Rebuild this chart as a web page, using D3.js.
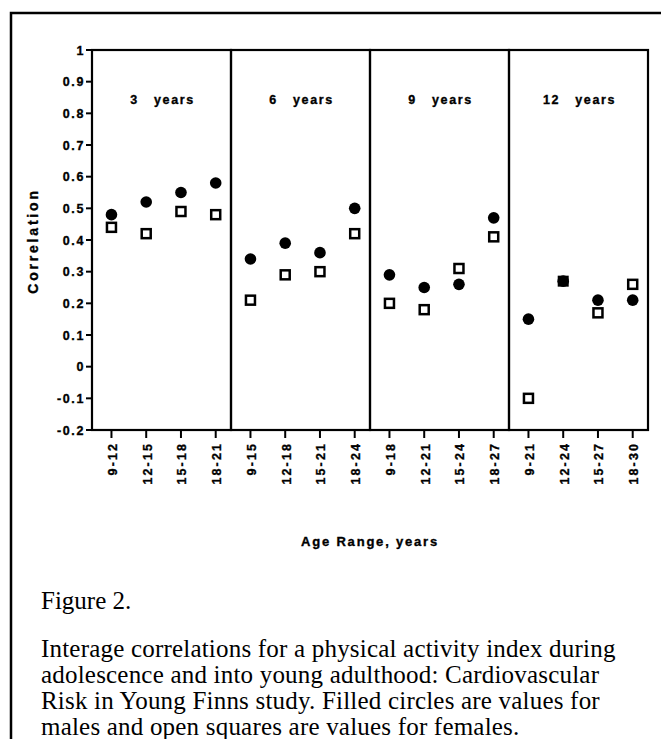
<!DOCTYPE html>
<html>
<head>
<meta charset="utf-8">
<script src="https://cdn.jsdelivr.net/npm/d3@7"></script>
<style>
	html, body { margin: 0; padding: 0; background: #fff; }
	svg { display: block; }
	.lab { font-family: "Liberation Sans", Arial, sans-serif; font-weight: bold; fill: #000; stroke: #000; stroke-width: 0.35px; }
	.cap { font-family: "Liberation Serif", "Times New Roman", serif; fill: #000; }
</style>
</head>
<body>
<div id="chart"></div>
<script>
// interage correlations, 4 follow-up lengths
const panelNames = ['3   years', '6   years', '9   years', '12   years'];
const ageRanges = [
	['9-12', '12-15', '15-18', '18-21'],
	['9-15', '12-18', '15-21', '18-24'],
	['9-18', '12-21', '15-24', '18-27'],
	['9-21', '12-24', '15-27', '18-30']
];
const males = [
	[0.48, 0.52, 0.55, 0.58],
	[0.34, 0.39, 0.36, 0.50],
	[0.29, 0.25, 0.26, 0.47],
	[0.15, 0.27, 0.21, 0.21]
];
const females = [
	[0.44, 0.42, 0.49, 0.48],
	[0.21, 0.29, 0.30, 0.42],
	[0.20, 0.18, 0.31, 0.41],
	[-0.10, 0.27, 0.17, 0.26]
];
const yTickValues = [-0.2, -0.1, 0, 0.1, 0.2, 0.3, 0.4, 0.5, 0.6, 0.7, 0.8, 0.9, 1];
const yTickLabels = ['-0.2', '-0.1', '0', '0.1', '0.2', '0.3', '0.4', '0.5', '0.6', '0.7', '0.8', '0.9', '1'];
const captionTitle = 'Figure 2.';
const captionLines = [
	'Interage correlations for a physical activity index during',
	'adolescence and into young adulthood: Cardiovascular',
	'Risk in Young Finns study. Filled circles are values for',
	'males and open squares are values for females.'
];

const W = 661, H = 739;
const plotLeft = 92, plotRight = 648, plotTop = 50, plotBottom = 430;

const svg = d3.select('#chart').append('svg')
	.attr('width', W)
	.attr('height', H);

// frame around the figure (only top and left show)
svg.append('path')
	.attr('d', `M11,${H} L11,13 L${W},13`)
	.attr('fill', 'none')
	.attr('stroke', '#000')
	.attr('stroke-width', 2.5);

const y = d3.scaleLinear().domain([-0.2, 1]).range([plotBottom, plotTop]);
const panelX = d3.scaleBand().domain(d3.range(4)).range([plotLeft, plotRight]);

// y axis ticks + labels
const yAxis = svg.append('g');
yAxis.selectAll('line')
	.data(yTickValues)
	.enter()
	.append('line')
	.attr('x1', plotLeft - 6)
	.attr('x2', plotLeft)
	.attr('y1', d => y(d))
	.attr('y2', d => y(d))
	.attr('stroke', '#000')
	.attr('stroke-width', 2);
yAxis.selectAll('text')
	.data(yTickValues)
	.enter()
	.append('text')
	.attr('class', 'lab')
	.attr('x', plotLeft - 7)
	.attr('y', d => y(d))
	.attr('dy', '0.36em')
	.attr('text-anchor', 'end')
	.style('font-size', '12.5px')
	.style('letter-spacing', '1.6px')
	.text((d, i) => yTickLabels[i]);

svg.append('text')
	.attr('class', 'lab')
	.attr('transform', `translate(38,241) rotate(-90)`)
	.attr('text-anchor', 'middle')
	.style('font-size', '14px')
	.style('letter-spacing', '2.8px')
	.text('Correlation');

panelNames.forEach((name, p) => {
	const x0 = panelX(p);
	const bw = panelX.bandwidth();
	const x = d3.scalePoint()
		.domain(ageRanges[p])
		.range([x0, x0 + bw])
		.padding(0.5)
		.align(0.56);

	const g = svg.append('g');

	g.append('rect')
		.attr('x', x0)
		.attr('y', plotTop)
		.attr('width', bw)
		.attr('height', plotBottom - plotTop)
		.attr('fill', 'none')
		.attr('stroke', '#000')
		.attr('stroke-width', 2.2);

	g.append('text')
		.attr('class', 'lab')
		.attr('x', x0 + bw / 2 + 1)
		.attr('y', 104)
		.attr('text-anchor', 'middle')
		.attr('xml:space', 'preserve')
		.style('white-space', 'pre')
		.style('font-size', '12.5px')
		.style('letter-spacing', '1.6px')
		.text(name);

	// x ticks and rotated labels
	g.selectAll('line.tick')
		.data(ageRanges[p])
		.enter()
		.append('line')
		.attr('class', 'tick')
		.attr('x1', d => x(d))
		.attr('x2', d => x(d))
		.attr('y1', plotBottom)
		.attr('y2', plotBottom + 8)
		.attr('stroke', '#000')
		.attr('stroke-width', 2);

	g.selectAll('text.xl')
		.data(ageRanges[p])
		.enter()
		.append('text')
		.attr('class', 'lab xl')
		.attr('transform', d => `translate(${x(d) + 1},${plotBottom + 12}) rotate(-90)`)
		.attr('dy', '0.36em')
		.attr('text-anchor', 'end')
		.style('font-size', '12.5px')
		.style('letter-spacing', '2.1px')
		.text(d => d);

	// males: filled circles
	g.selectAll('circle')
		.data(males[p])
		.enter()
		.append('circle')
		.attr('cx', (d, i) => x(ageRanges[p][i]))
		.attr('cy', d => y(d))
		.attr('r', 5.8)
		.attr('fill', '#000');

	// females: open squares, solid where both coincide
	g.selectAll('rect.f')
		.data(females[p])
		.enter()
		.append('rect')
		.attr('class', 'f')
		.attr('x', (d, i) => x(ageRanges[p][i]) - (d === males[p][i] ? 5.5 : 4.5))
		.attr('y', (d, i) => y(d) - (d === males[p][i] ? 5.5 : 4.5))
		.attr('width', (d, i) => d === males[p][i] ? 11 : 9)
		.attr('height', (d, i) => d === males[p][i] ? 11 : 9)
		.attr('fill', (d, i) => d === males[p][i] ? '#000' : '#fff')
		.attr('stroke', (d, i) => d === males[p][i] ? 'none' : '#000')
		.attr('stroke-width', 2.5);
});

svg.append('text')
	.attr('class', 'lab')
	.attr('x', 370)
	.attr('y', 546)
	.attr('text-anchor', 'middle')
	.style('font-size', '13px')
	.style('letter-spacing', '1.8px')
	.text('Age Range, years');

// caption
svg.append('text')
	.attr('class', 'cap')
	.attr('x', 41)
	.attr('y', 609)
	.style('font-size', '25px')
	.text(captionTitle);

svg.append('g')
	.selectAll('text')
	.data(captionLines)
	.enter()
	.append('text')
	.attr('class', 'cap')
	.attr('x', 41)
	.attr('y', (d, i) => 657 + i * 26)
	.style('font-size', '25px')
	.style('letter-spacing', '0.2px')
	.text(d => d);
</script>
</body>
</html>
